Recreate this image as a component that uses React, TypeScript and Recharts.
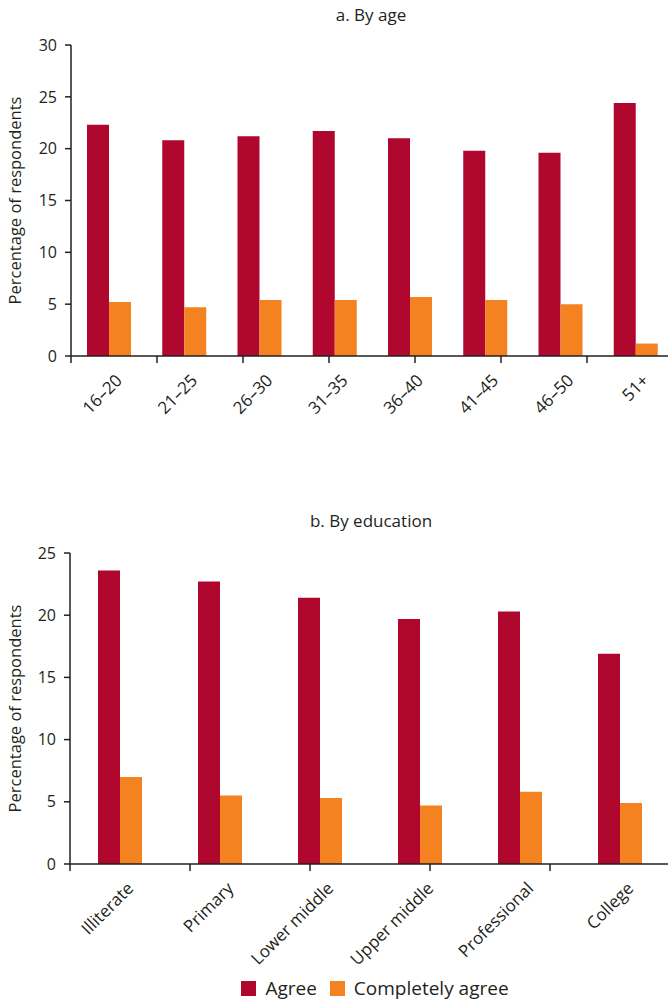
import React from "react";
import { BarChart, Bar, XAxis, YAxis } from "recharts";

const ageGroups = ["16–20", "21–25", "26–30", "31–35", "36–40", "41–45", "46–50", "51+"];
const ageAgree = [22.3, 20.8, 21.2, 21.7, 21.0, 19.8, 19.6, 24.4];
const ageCompletely = [5.2, 4.7, 5.4, 5.4, 5.7, 5.4, 5.0, 1.2];

const eduGroups = ["Illiterate", "Primary", "Lower middle", "Upper middle", "Professional", "College"];
const eduAgree = [23.6, 22.7, 21.4, 19.7, 20.3, 16.9];
const eduCompletely = [7.0, 5.5, 5.3, 4.7, 5.8, 4.9];

const ageTicks = [0, 5, 10, 15, 20, 25, 30];
const eduTicks = [0, 5, 10, 15, 20, 25];

const AGREE = "#b0072f";
const COMPLETELY = "#f48221";
const INK = "#231f20";
const FONT = "'Open Sans', sans-serif";

const ageData = ageGroups.map((group, i) => ({
  group,
  agree: ageAgree[i],
  completely: ageCompletely[i],
}));

const eduData = eduGroups.map((group, i) => ({
  group,
  agree: eduAgree[i],
  completely: eduCompletely[i],
}));

// ticks on the category borders, read through a numeric axis spanning the bands
const edgeTicks = (n: number) => Array.from({ length: n + 1 }, (_, i) => i);

const yTickStyle = { fill: INK, fontSize: 16, fontFamily: FONT };
const xTickStyle = { fill: INK, fontSize: 17, fontFamily: FONT, dx: 6 };

const titleStyle: React.CSSProperties = {
  position: "absolute",
  left: 0,
  width: 742,
  textAlign: "center",
  fontSize: 17,
  color: INK,
  fontFamily: FONT,
};

interface PanelProps {
  data: { group: string; agree: number; completely: number }[];
  count: number;
  ticks: number[];
  max: number;
  width: number;
  height: number;
  axisWidth: number;
  top: number;
  bottom: number;
}

const Panel: React.FC<PanelProps> = ({ data, count, ticks, max, width, height, axisWidth, top, bottom }) => (
  <BarChart width={width} height={height} data={data} margin={{ top, right: 0, left: 0, bottom }} barGap={0}>
    <XAxis
      xAxisId="axis1"
      dataKey="group"
      interval={0}
      angle={-45}
      textAnchor="end"
      height={60}
      axisLine={false}
      tickLine={false}
      tickSize={6}
      tickMargin={10}
      tick={xTickStyle}
    />
    <XAxis
      xAxisId="axis0"
      type="number"
      domain={[0, count]}
      ticks={edgeTicks(count)}
      allowDataOverflow
      height={1}
      tickFormatter={() => ""}
      tickSize={7}
      axisLine={{ stroke: INK, strokeWidth: 1.5 }}
      tickLine={{ stroke: INK, strokeWidth: 1.5 }}
    />
    <YAxis
      domain={[0, max]}
      ticks={ticks}
      width={axisWidth}
      tickSize={6}
      tickMargin={8}
      tick={yTickStyle}
      axisLine={{ stroke: INK, strokeWidth: 1.5 }}
      tickLine={{ stroke: INK, strokeWidth: 1.5 }}
      label={{
        value: "Percentage of respondents",
        angle: -90,
        position: "insideLeft",
        offset: 15,
        style: { textAnchor: "middle", fill: INK, fontSize: 16.5, fontFamily: FONT },
      }}
    />
    <Bar xAxisId="axis1" dataKey="agree" name="Agree" fill={AGREE} barSize={22} isAnimationActive={false} />
    <Bar xAxisId="axis1" dataKey="completely" name="Completely agree" fill={COMPLETELY} barSize={22} isAnimationActive={false} />
  </BarChart>
);

const legendItems = [
  { label: "Agree", color: AGREE },
  { label: "Completely agree", color: COMPLETELY },
];

export default function App() {
  return (
    <div
      style={{
        position: "absolute",
        left: 0,
        top: 0,
        width: 668,
        height: 1003,
        overflow: "hidden",
        background: "#fff",
        fontFamily: FONT,
      }}
    >
      <div style={{ ...titleStyle, top: 3 }}>a. By age</div>
      <div style={{ position: "absolute", left: 0, top: 0 }}>
        <Panel
          data={ageData}
          count={ageGroups.length}
          ticks={ageTicks}
          max={30}
          width={673}
          height={470}
          axisWidth={71}
          top={45}
          bottom={53}
        />
      </div>

      <div style={{ ...titleStyle, top: 509 }}>b. By education</div>
      <div style={{ position: "absolute", left: 0, top: 500 }}>
        <Panel
          data={eduData}
          count={eduGroups.length}
          ticks={eduTicks}
          max={25}
          width={670}
          height={503}
          axisWidth={70}
          top={53}
          bottom={78}
        />
      </div>

      <div
        style={{
          position: "absolute",
          top: 975,
          left: 0,
          width: 750,
          display: "flex",
          justifyContent: "center",
          gap: 13,
          fontSize: 19,
          color: INK,
          background: "transparent",
        }}
      >
        {legendItems.map((item) => (
          <div key={item.label} style={{ display: "flex", alignItems: "center", gap: 9 }}>
            <span style={{ width: 15, height: 15, background: item.color, display: "inline-block" }} />
            <span>{item.label}</span>
          </div>
        ))}
      </div>
    </div>
  );
}
